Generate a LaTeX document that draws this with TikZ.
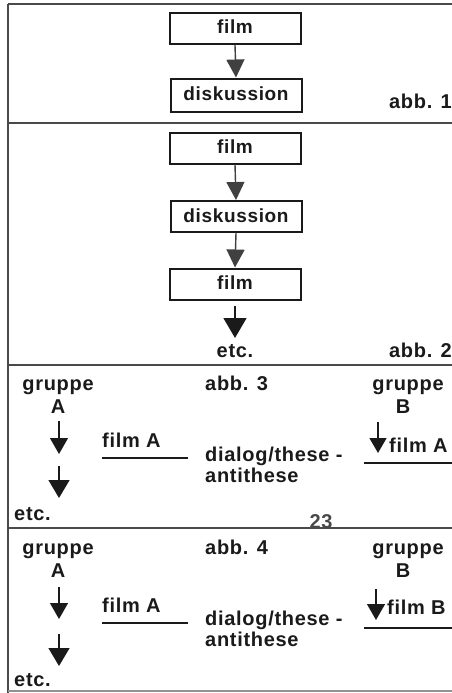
\documentclass[tikz,border=0pt]{standalone}
\usepackage{fontspec}
\setmainfont{Liberation Sans}[LetterSpace=3.5]
\usetikzlibrary{arrows.meta}
\definecolor{ink}{HTML}{1A1A1A}
\definecolor{rulegray}{HTML}{4A4A4A}
\newcommand\lblfont{\fontsize{20pt}{20pt}\selectfont\bfseries}
\newcommand\boxfont{\fontsize{19pt}{19pt}\selectfont\bfseries}
\tikzset{
  lbl/.style={font=\lblfont, text=ink, anchor=base, inner sep=0pt},
  stepbox/.style={draw=ink, line width=2pt, fill=white, minimum width=131pt,
    minimum height=31pt, inner sep=0pt, font=\boxfont, text=ink,
    text height=11pt, text depth=0pt},
  flow/.style={draw=black!75, line width=1.4pt,
    -{Triangle[width=18pt,length=18pt]}},
  bigflow/.style={draw=ink, line width=1.4pt,
    -{Triangle[width=23pt,length=20pt]}},
  smallflow/.style={draw=ink, line width=1.4pt,
    -{Triangle[width=18pt,length=16pt]}},
  rule/.style={draw=rulegray, line width=1.8pt},
  underl/.style={draw=ink, line width=1.6pt},
}
\begin{document}
\begin{tikzpicture}[x=1pt,y=-1pt]
\useasboundingbox (0,0) rectangle (452,693);

% frame and separators
\draw[rule] (8,4) -- (8,693);
\draw[rule] (8,4) -- (452,4);
\draw[rule] (8,123) -- (452,123);
\draw[rule] (8,365) -- (452,365);
\draw[rule] (8,528) -- (452,528);
\draw[rule, draw=rulegray!60] (8,691) -- (452,691);

% abb. 1
\node[stepbox] (f1) at (235,28.5) {film};
\node[stepbox, minimum height=33pt] (d1) at (236,95) {diskussion};
\draw[flow] (f1.south) -- (d1.north);
\node[lbl, anchor=base east] (abb1) at (452,108) {abb. 1};

% abb. 2
\node[stepbox] (f2) at (235,148) {film};
\node[stepbox] (d2) at (236,216.5) {diskussion};
\node[stepbox] (f3) at (235,284) {film};
\draw[flow] (f2.south) -- (d2.north);
\draw[flow] (d2.south) -- (f3.north);
\node[lbl] (etc2) at (235,357) {etc.};
\coordinate (t2) at (235,338);
\draw[bigflow] ([yshift=-5pt]f3.south) -- (t2);
\node[lbl, anchor=base east] (abb2) at (452,357) {abb. 2};

% abb. 3
\node[lbl] (g3a) at (58,390) {gruppe};
\node[lbl] (A3) at (58,413) {A};
\coordinate (a3s1) at (59,421);
\coordinate (a3t1) at (59,454);
\coordinate (a3s2) at (59,466);
\coordinate (a3t2) at (59,498);
\draw[smallflow] (a3s1) -- (a3t1);
\draw[smallflow, -{Triangle[width=21pt,length=18pt]}] (a3s2) -- (a3t2);
\node[lbl, anchor=base west] (etc3) at (14,520) {etc.};
\node[lbl, anchor=base west] (fa3) at (102,447) {film A};
\coordinate (u3a) at (102,458);
\coordinate (u3b) at (188,458);
\draw[underl] (u3a) -- (u3b);
\node[lbl, anchor=base west] (abb3) at (205,390) {abb. 3};
\node[lbl, anchor=base west] (dl3) at (205,461) {dialog/these -};
\node[lbl, anchor=base west] (an3) at (205,482) {antithese};
\node[lbl] (g3b) at (408,390) {gruppe};
\node[lbl] (B3) at (403,413) {B};
\coordinate (b3s) at (378,422);
\coordinate (b3t) at (378,453);
\draw[smallflow, -{Triangle[width=17pt,length=15pt]}] (b3s) -- (b3t);
\node[lbl, anchor=base west] (fb3) at (389,452) {film A};
\coordinate (v3a) at (364,463);
\coordinate (v3b) at (452,463);
\draw[underl] (v3a) -- (v3b);
\node[lbl, text=ink!80] (pg) at (321,528) {23};

% abb. 4
\node[lbl] (g4a) at (58,554) {gruppe};
\node[lbl] (A4) at (58,577) {A};
\coordinate (a4s1) at (59,587);
\coordinate (a4t1) at (59,619);
\coordinate (a4s2) at (59,634);
\coordinate (a4t2) at (59,666);
\draw[smallflow] (a4s1) -- (a4t1);
\draw[smallflow, -{Triangle[width=21pt,length=18pt]}] (a4s2) -- (a4t2);
\node[lbl, anchor=base west] (etc4) at (14,686) {etc.};
\node[lbl, anchor=base west] (fa4) at (102,612) {film A};
\coordinate (u4a) at (102,623);
\coordinate (u4b) at (188,623);
\draw[underl] (u4a) -- (u4b);
\node[lbl, anchor=base west] (abb4) at (205,554) {abb. 4};
\node[lbl, anchor=base west] (dl4) at (205,625) {dialog/these -};
\node[lbl, anchor=base west] (an4) at (205,646) {antithese};
\node[lbl] (g4b) at (408,554) {gruppe};
\node[lbl] (B4) at (403,577) {B};
\coordinate (b4s) at (376,589);
\coordinate (b4t) at (376,620);
\draw[smallflow] (b4s) -- (b4t);
\node[lbl, anchor=base west] (fb4) at (387,614) {film B};
\coordinate (v4a) at (364,628);
\coordinate (v4b) at (452,628);
\draw[underl] (v4a) -- (v4b);
\end{tikzpicture}
\end{document}
